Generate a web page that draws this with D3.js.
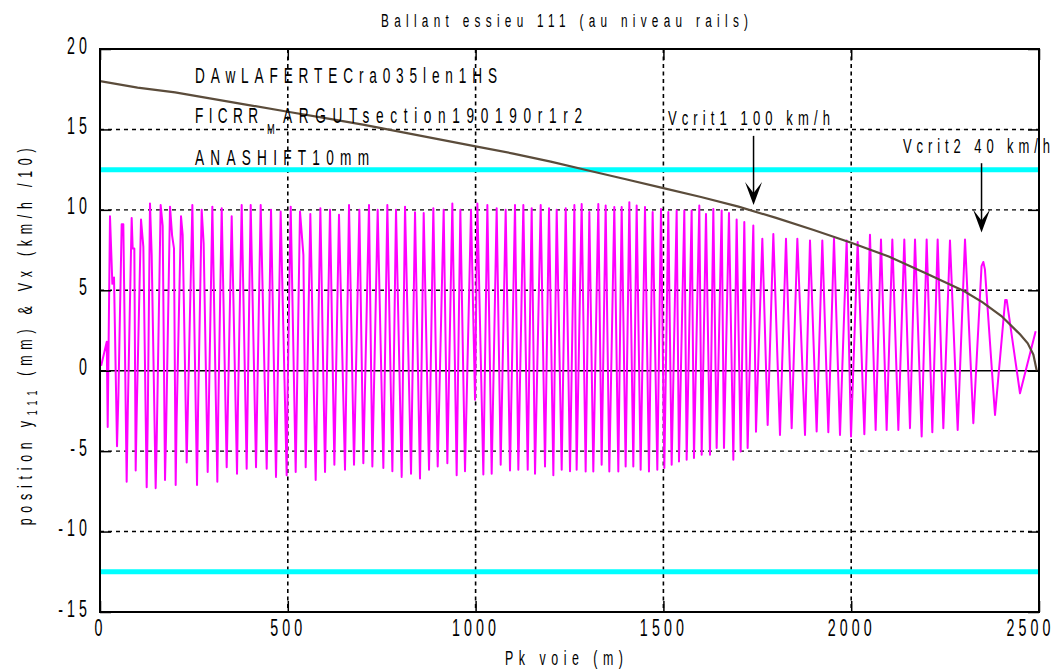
<!DOCTYPE html>
<html>
<head>
<meta charset="utf-8">
<script src="https://cdn.jsdelivr.net/npm/d3@7"></script>
<style>
  html, body { margin: 0; padding: 0; background: #fff; }
  text { font-family: 'Liberation Sans', Arial, sans-serif; fill: #000; }
</style>
</head>
<body>
<div id="chart"></div>
<script>
// Axis ticks
const xTicks = [0, 500, 1000, 1500, 2000, 2500];
const yTicks = [-15, -10, -5, 0, 5, 10, 15, 20];
const xGrid = [500, 1000, 1500, 2000];
const yGrid = [-10, -5, 5, 10, 15];

// Rail limits (+/- 12.5 mm)
const railLimits = [12.5, -12.5];

// Vx / 10 (km/h /10) along the track
const vxPk  = [0, 100, 200, 300, 400, 500, 600, 700, 800, 900, 1000, 1100, 1200, 1300, 1400, 1500,
               1600, 1700, 1800, 1900, 2000, 2100, 2200, 2300, 2350, 2400, 2450, 2470, 2485, 2494];
const vxVal = [18.0, 17.6, 17.3, 16.9, 16.5, 16.1, 15.7, 15.3, 14.85, 14.4, 13.95, 13.5, 13.0, 12.45, 11.9, 11.35,
               10.8, 10.2, 9.5, 8.75, 7.95, 7.1, 6.05, 4.95, 4.25, 3.4, 2.25, 1.7, 1.0, 0.0];

// Lateral position y111 (mm): turning points [pk, y]
const y111 = [
  [3, 0.3], [18, 1.8], [20.5, -3.5], [26.6, 9.6], [32.9, 5.4], [37.3, 5.8], [45.3, -4.7], [49, -1.5],
  [57.7, 9.1], [62.1, 9.1], [71.0, -6.9], [74, -2.5], [84.3, 9.5], [87.0, 7.6], [91.4, 7.6], [95.0, -6.2],
  [98, -2.3], [109.2, 9.4], [115.4, 7.7], [124.3, -7.25], [127, -3.2], [133.1, 10.4], [137.6, 7.2],
  [148.2, -7.3], [151, -4.3], [161.5, 10.3], [166.9, 9.0], [173.1, -6.8], [176, -3.8], [186.4, 10.2],
  [192, 8.4], [197.0, 7.6], [201.5, -7.1], [204, -3.0], [215.7, 9.6], [220.1, 8.45], [230.8, -5.7],
  [245.9, 10.3], [258.3, -7.1], [261, -2.6], [270.7, 10.0], [276.0, 7.9], [286.7, -6.3], [299.1, 10.2],
  [312.4, -6.9], [315, -2.3], [324.0, 10.1], [337.3, -6.0], [350.6, 9.6], [364.8, -6.4], [367, -2.6],
  [377.2, 10.3], [390.5, -6.1], [401.2, 10.3], [415.4, -6.0], [427.8, 10.3], [443.8, -6.1], [455.3, 10.0],
  [468.6, -6.6], [481.0, 9.9], [497.0, -6.5], [499, -2.0], [507.7, 10.2], [521.0, -6.3], [532.5, 9.9],
  [541.5, 7.2], [547.6, -6.0], [560.0, 9.75], [574.2, -6.8], [586.7, 10.1], [599.1, -6.3], [612.4, 10.0],
  [624.0, -5.85], [636.3, 9.7], [652.3, -6.15], [663.0, 10.3], [676.3, -5.85], [690.5, 10.0], [701.1, -5.75],
  [716.2, 10.3], [725.1, -5.95], [739.3, 10.0], [754.4, -6.05], [765.0, 10.3], [778.4, -6.25], [788.1, 10.0],
  [803.2, -6.6], [812.1, 10.2], [828.1, -6.4], [838.7, 9.85], [852.0, -6.7], [861.8, 9.8], [876.0, -6.15],
  [887.5, 10.1], [899.1, -5.95], [915.0, 10.0], [924.8, -5.75], [938.1, 10.4], [949.6, -6.5], [959.4, 10.0],
  [971.8, -6.25], [987.8, 10.0], [998.5, -1.8], [1004.7, 10.4], [1020.6, -6.45], [1031.3, 10.3],
  [1042.8, -6.4], [1056.1, 10.1], [1066.8, -5.85], [1080.1, 10.0], [1091.6, -6.2], [1104.9, 10.3],
  [1113.8, -6.15], [1127.1, 10.3], [1138.7, -6.15], [1149.3, 10.1], [1158.2, -6.4], [1173.3, 10.3],
  [1184.8, -5.95], [1195.5, 10.1], [1207.0, -6.5], [1215.9, 10.0], [1229.2, -6.15], [1239.9, 10.1],
  [1251.4, -6.25], [1263.0, 10.3], [1269.0, -6.16], [1282.4, 10.37], [1293.0, -6.26], [1302.8, 9.86],
  [1313.4, -6.26], [1326.7, 10.37], [1335.6, -5.85], [1346.3, 10.27], [1356.0, -6.26], [1369.3, 10.17],
  [1380.0, -6.26], [1388.9, 10.17], [1399.5, -5.95], [1409.3, 10.48], [1419.9, -5.95], [1428.8, 10.27],
  [1439.4, -6.16], [1451.0, 10.17], [1461.6, -6.26], [1471.4, 9.86], [1483.8, -6.16], [1493.6, 10.06],
  [1502.5, -6.05], [1513.1, 9.86], [1522.0, -5.85], [1535.3, 9.96], [1541.5, -5.64], [1555.7, 9.96],
  [1561.9, -5.54], [1575.2, 9.96], [1581.4, -5.43], [1595.6, 10.27], [1601.9, -5.23], [1613.4, 9.75],
  [1624.0, -5.23], [1632.9, 10.06], [1641.8, -4.81], [1655.1, 9.96], [1661.3, -4.81], [1674.6, 9.81],
  [1686.2, -5.54], [1695.0, 9.40], [1705.7, -5.02], [1715.4, 9.24], [1724.3, -4.81], [1739.4, 9.03],
  [1746.5, -3.79], [1763.4, 8.2], [1777.6, -3.37], [1792.7, 8.5], [1810.4, -3.99], [1826.4, 8.2],
  [1841.5, -3.57], [1856.6, 8.2], [1877.0, -3.99], [1890.3, 8.1], [1908.0, -3.78], [1923.1, 8.1],
  [1939.1, -3.82], [1954.2, 8.2], [1970.2, -3.99], [1987.9, 8.1], [1999.5, -4.09], [2017.2, 8.0],
  [2035.0, -3.95], [2050.0, 8.45], [2065.1, -3.68], [2079.3, 8.16], [2094.4, -3.68], [2109.5, 8.16],
  [2125.5, -3.68], [2141.4, 8.16], [2156.5, -3.57], [2169.9, 8.16], [2187.6, -4.09], [2200.9, 8.16],
  [2216.0, -3.82], [2230.2, 8.16], [2245.3, -3.57], [2263.0, 8.1], [2283.5, -3.68], [2303.0, 8.16],
  [2325.2, -3.26], [2347, 6.5], [2351.8, 6.76], [2356, 6.3], [2382.9, -2.75], [2410, 4.4], [2414, 4.4],
  [2449.4, -1.40], [2491.1, 2.46]
];

// Critical speed markers: arrow at pk, from value down to value, label anchor (pk, value)
const vcritLabels = ['Vcrit1 100 km/h', 'Vcrit2 40 km/h'];
const vcritPk = [1740, 2347];
const vcritFrom = [14.6, 12.9];
const vcritTo = [10.3, 8.6];
const vcritLabelPk = [1512, 2138];
const vcritLabelVal = [15.27, 13.53];

const W = 1056, H = 672;
const margin = { top: 49, right: 17, bottom: 60, left: 100 };
const width = W - margin.left - margin.right;
const height = H - margin.top - margin.bottom;

const svg = d3.select('#chart').append('svg')
  .attr('width', W).attr('height', H)
  .style('background', '#fff');

const g = svg.append('g').attr('transform', `translate(${margin.left},${margin.top})`);

const x = d3.scaleLinear().domain([0, 2500]).range([0, width]);
const y = d3.scaleLinear().domain([-15, 20]).range([height, 0]);

const SX = 0.62; // horizontal squeeze of the narrow plot font

// narrow, letter-spaced text
function condText(parent, tx, ty, str, size, opts = {}) {
  const grp = parent.append('g')
    .attr('transform', `translate(${tx},${ty})${opts.rotate ? ` rotate(${opts.rotate})` : ''} scale(${SX},1)`);
  const t = grp.append('text')
    .attr('text-anchor', opts.anchor || 'start')
    .style('font-size', size + 'px');
  if (opts.width) t.attr('textLength', opts.width / SX).attr('lengthAdjust', 'spacing');
  if (opts.ls) t.style('letter-spacing', opts.ls + 'px');
  if (str !== null) t.text(str);
  return t;
}

g.append('defs').append('clipPath').attr('id', 'plot-clip')
  .append('rect').attr('width', width).attr('height', height);

// Grid
g.append('g').selectAll('line').data(xGrid).join('line')
  .attr('x1', d => x(d)).attr('x2', d => x(d))
  .attr('y1', 0).attr('y2', height)
  .attr('stroke', '#000').attr('stroke-width', 1.6).attr('stroke-dasharray', '4,3.5');

g.append('g').selectAll('line').data(yGrid).join('line')
  .attr('x1', 0).attr('x2', width)
  .attr('y1', d => y(d)).attr('y2', d => y(d))
  .attr('stroke', '#000').attr('stroke-width', 1.4).attr('stroke-dasharray', '4,4');

g.append('line')
  .attr('x1', 0).attr('x2', width)
  .attr('y1', y(0)).attr('y2', y(0))
  .attr('stroke', '#000').attr('stroke-width', 1.6);

const plot = g.append('g').attr('clip-path', 'url(#plot-clip)');

// Rail limits
plot.selectAll('line.rail').data(railLimits).join('line')
  .attr('class', 'rail')
  .attr('x1', 0).attr('x2', width)
  .attr('y1', d => y(d)).attr('y2', d => y(d))
  .attr('stroke', '#00ffff').attr('stroke-width', 5);

// y111 trace
plot.append('path')
  .datum(y111)
  .attr('fill', 'none')
  .attr('stroke', '#ff00ff')
  .attr('stroke-width', 2)
  .attr('stroke-linejoin', 'round')
  .attr('d', d3.line().x(d => x(d[0])).y(d => y(d[1])));

// Vx / 10 curve
plot.append('path')
  .datum(vxPk.map((p, i) => [p, vxVal[i]]))
  .attr('fill', 'none')
  .attr('stroke', '#5b4c3b')
  .attr('stroke-width', 2.2)
  .attr('d', d3.line().x(d => x(d[0])).y(d => y(d[1])));

// Axes (ticks pointing inward)
const fmt = d => String(d);

const xAxis = g.append('g').attr('transform', `translate(0,${height})`)
  .call(d3.axisBottom(x).tickValues(xTicks).tickSize(-11).tickFormat(fmt));
xAxis.selectAll('text')
  .attr('dy', null).attr('y', 24)
  .attr('x', d => d === 2500 ? -9 / SX : 0)
  .attr('transform', `scale(${SX},1)`)
  .style('font-size', '23px').style('letter-spacing', '6.6px');

g.append('g')
  .call(d3.axisTop(x).tickValues(xTicks).tickSize(-11).tickFormat(''));

const yAxis = g.append('g')
  .call(d3.axisLeft(y).tickValues(yTicks).tickSize(-11).tickFormat(fmt));
yAxis.selectAll('text')
  .attr('dy', null).attr('y', 4).attr('x', -9 / SX)
  .attr('transform', `scale(${SX},1)`)
  .style('font-size', '23px').style('letter-spacing', '6.6px');

g.append('g').attr('transform', `translate(${width},0)`)
  .call(d3.axisRight(y).tickValues(yTicks).tickSize(-11).tickFormat(''));

g.selectAll('.domain').remove();
g.selectAll('.tick line').attr('stroke', '#000').attr('stroke-width', 1.5);
g.selectAll('.tick text').style('font-family', "'Liberation Sans', Arial, sans-serif");

// Frame
g.append('rect')
  .attr('width', width).attr('height', height)
  .attr('fill', 'none').attr('stroke', '#000').attr('stroke-width', 2);

// Critical speed arrows
vcritPk.forEach((pk, i) => {
  const ax = x(pk), y0 = y(vcritFrom[i]), y1 = y(vcritTo[i]);
  g.append('line')
    .attr('x1', ax).attr('x2', ax).attr('y1', y0).attr('y2', y1 - 10)
    .attr('stroke', '#000').attr('stroke-width', 1.5);
  g.append('path')
    .attr('d', `M${ax},${y1} L${ax - 8.5},${y1 - 23} L${ax},${y1 - 12} L${ax + 8.5},${y1 - 23} Z`)
    .attr('fill', '#000');
  condText(g, x(vcritLabelPk[i]), y(vcritLabelVal[i]), vcritLabels[i], 21,
    { width: i === 0 ? 162 : 147 });
});

// Run description block
condText(svg, 195, 83, 'DAwLAFERTECra035len1HS', 22, { width: 302 });
condText(svg, 195, 123, 'FICRR', 22, { width: 63 });
condText(svg, 267, 134, 'M', 15);
condText(svg, 283, 123, 'ARGUTsection190190r1r2', 22, { width: 299 });
condText(svg, 195, 165, 'ANASHIFT10mm', 22, { width: 174 });

// Title and axis labels
condText(svg, 381, 27, 'Ballant essieu 111 (au niveau rails)', 19, { width: 367 });
condText(svg, 505, 665, 'Pk voie (m)', 20, { width: 118 });

const yLab = condText(svg, 32, 334, null, 20, { rotate: -90, anchor: 'middle', ls: 9.3 });
yLab.append('tspan').text('position y');
yLab.append('tspan').attr('dy', 5).style('font-size', '14px').text('111');
yLab.append('tspan').attr('dy', -5).text(' (mm) & Vx (km/h /10)');
</script>
</body>
</html>
